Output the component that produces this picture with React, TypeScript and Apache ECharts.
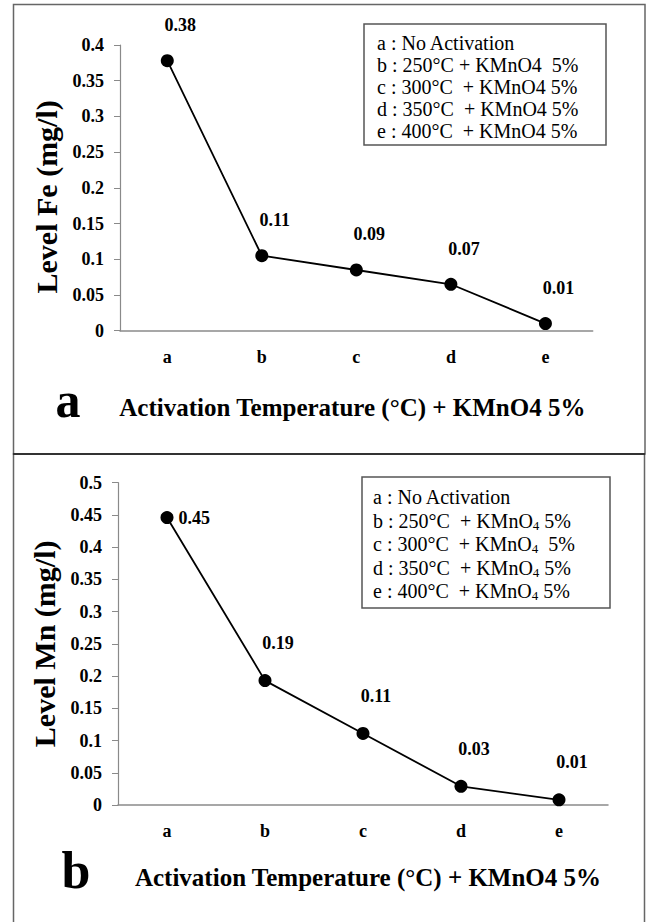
import React, { useEffect, useRef } from "react";
import * as echarts from "echarts";

const categories = ["a", "b", "c", "d", "e"];
const feValues = [0.378, 0.105, 0.085, 0.065, 0.01];
const feLabels = ["0.38", "0.11", "0.09", "0.07", "0.01"];
const mnValues = [0.446, 0.193, 0.111, 0.029, 0.008];
const mnLabels = ["0.45", "0.19", "0.11", "0.03", "0.01"];
const feAxis = { min: 0, max: 0.4, interval: 0.05 };
const mnAxis = { min: 0, max: 0.5, interval: 0.05 };
const feLegend = [
  "a : No Activation",
  "b : 250°C + KMnO4  5%",
  "c : 300°C  + KMnO4 5%",
  "d : 350°C  + KMnO4 5%",
  "e : 400°C  + KMnO4 5%",
];
const mnLegend = [
  "a : No Activation",
  "b : 250°C  + KMnO{s|4} 5%",
  "c : 300°C  + KMnO{s|4}  5%",
  "d : 350°C  + KMnO{s|4} 5%",
  "e : 400°C  + KMnO{s|4} 5%",
];
const xTitle = "Activation Temperature (°C) + KMnO4 5%";
const feTitle = "Level Fe (mg/l)";
const mnTitle = "Level Mn (mg/l)";

const SERIF = "Liberation Serif";

export default function App() {
  const ref = useRef<HTMLDivElement>(null);
  useEffect(() => {
    if (!ref.current) return;
    const chart = echarts.init(ref.current, null, { renderer: "svg" });
    const axisLabelStyle = {
      color: "#000",
      fontFamily: SERIF,
      fontWeight: "bold" as const,
      fontSize: 18,
    };
    const makeX = (gridIndex: number, gap: number, pad: number[]) => ({
      type: "category" as const,
      gridIndex,
      data: categories,
      boundaryGap: true,
      axisLine: { lineStyle: { color: "#8a8a8a", width: 1.5 } },
      axisTick: { show: false },
      axisLabel: { ...axisLabelStyle, margin: 17 },
      name: xTitle,
      nameLocation: "middle" as const,
      nameGap: gap,
      nameTextStyle: {
        color: "#000",
        fontFamily: SERIF,
        fontWeight: "bold" as const,
        fontSize: 25,
        padding: pad,
      },
    });
    const makeY = (gridIndex: number, ax: any, name: string, gap: number, pad: number[]) => ({
      type: "value" as const,
      gridIndex,
      min: ax.min,
      max: ax.max,
      interval: ax.interval,
      axisLine: { show: true, lineStyle: { color: "#8a8a8a", width: 1.2 } },
      axisTick: { show: true, length: 6, lineStyle: { color: "#8a8a8a" } },
      splitLine: { show: false },
      axisLabel: { ...axisLabelStyle, margin: 16 },
      name,
      nameLocation: "middle" as const,
      nameRotate: 90,
      nameGap: gap,
      nameTextStyle: {
        color: "#000",
        fontFamily: SERIF,
        fontWeight: "bold" as const,
        fontSize: 30,
        padding: pad,
      },
    });
    const labelStyle = {
      show: true,
      color: "#000",
      fontFamily: SERIF,
      fontWeight: "bold" as const,
      fontSize: 18,
    };
    const legendItems = (lines: string[], x: number, y0: number, step: number, rich?: any) =>
      lines.map((t, i) => ({
        type: "text",
        x,
        y: y0 + i * step,
        style: {
          text: t,
          fill: "#000",
          fontFamily: SERIF,
          fontSize: 20,
          verticalAlign: "middle",
          rich,
        },
      }));
    const subRich = {
      s: { fontSize: 13, fontFamily: SERIF, fill: "#000", padding: [9, 0, 0, 0] },
    };

    chart.setOption({
      animation: false,
      backgroundColor: "#fff",
      grid: [
        { left: 120, top: 45, width: 472.7, height: 285.7 },
        { left: 118, top: 482.7, width: 490, height: 322.3 },
      ],
      xAxis: [makeX(0, 64, [0, 8, 0, 0]), makeX(1, 60, [0, 0, 0, 10])],
      yAxis: [
        makeY(0, feAxis, feTitle, 55, [0, 18, 0, 0]),
        makeY(1, mnAxis, mnTitle, 58, [0, 0, 0, 0]),
      ],
      series: [
        {
          type: "line",
          xAxisIndex: 0,
          yAxisIndex: 0,
          data: feValues,
          symbol: "circle",
          symbolSize: 13,
          itemStyle: { color: "#000" },
          lineStyle: { color: "#000", width: 1.8 },
          label: {
            ...labelStyle,
            position: "top",
            distance: 20,
            offset: [13, 0],
            formatter: (p: any) => feLabels[p.dataIndex],
          },
        },
        {
          type: "line",
          xAxisIndex: 1,
          yAxisIndex: 1,
          data: mnValues.map((v, i) =>
            i === 0
              ? { value: v, label: { position: "right", distance: 5, offset: [0, 0] } }
              : v
          ),
          symbol: "circle",
          symbolSize: 13,
          itemStyle: { color: "#000" },
          lineStyle: { color: "#000", width: 1.8 },
          label: {
            ...labelStyle,
            position: "top",
            distance: 22,
            offset: [13, 0],
            formatter: (p: any) => mnLabels[p.dataIndex],
          },
        },
      ],
      graphic: [
        {
          type: "rect",
          shape: { x: 13.5, y: 4.5, width: 631.5, height: 449.5 },
          style: { fill: "none", stroke: "#666", lineWidth: 1.5 },
          silent: true,
        },
        {
          type: "rect",
          shape: { x: 13.5, y: 454, width: 631, height: 480 },
          style: { fill: "none", stroke: "#666", lineWidth: 1.5 },
          silent: true,
        },
        {
          type: "line",
          shape: { x1: 13, y1: 454, x2: 645, y2: 454 },
          style: { stroke: "#333", lineWidth: 2 },
          silent: true,
        },
        {
          type: "rect",
          shape: { x: 364, y: 24, width: 242, height: 121 },
          style: { fill: "#fff", stroke: "#555", lineWidth: 1.5 },
        },
        ...legendItems(feLegend, 377, 43, 22),
        {
          type: "rect",
          shape: { x: 362, y: 477, width: 248, height: 131 },
          style: { fill: "#fff", stroke: "#555", lineWidth: 1.5 },
        },
        ...legendItems(mnLegend, 373, 497, 23.5, subRich),
        {
          type: "text",
          x: 68,
          y: 400,
          style: {
            text: "a",
            fill: "#000",
            fontFamily: SERIF,
            fontWeight: "bold",
            fontSize: 50,
            align: "center",
            verticalAlign: "middle",
          },
        },
        {
          type: "text",
          x: 76,
          y: 870,
          style: {
            text: "b",
            fill: "#000",
            fontFamily: SERIF,
            fontWeight: "bold",
            fontSize: 52,
            align: "center",
            verticalAlign: "middle",
          },
        },
      ],
    });
    return () => chart.dispose();
  }, []);
  return (
    <div
      ref={ref}
      style={{ position: "absolute", left: 0, top: 0, width: 647, height: 922, background: "#fff" }}
    />
  );
}
